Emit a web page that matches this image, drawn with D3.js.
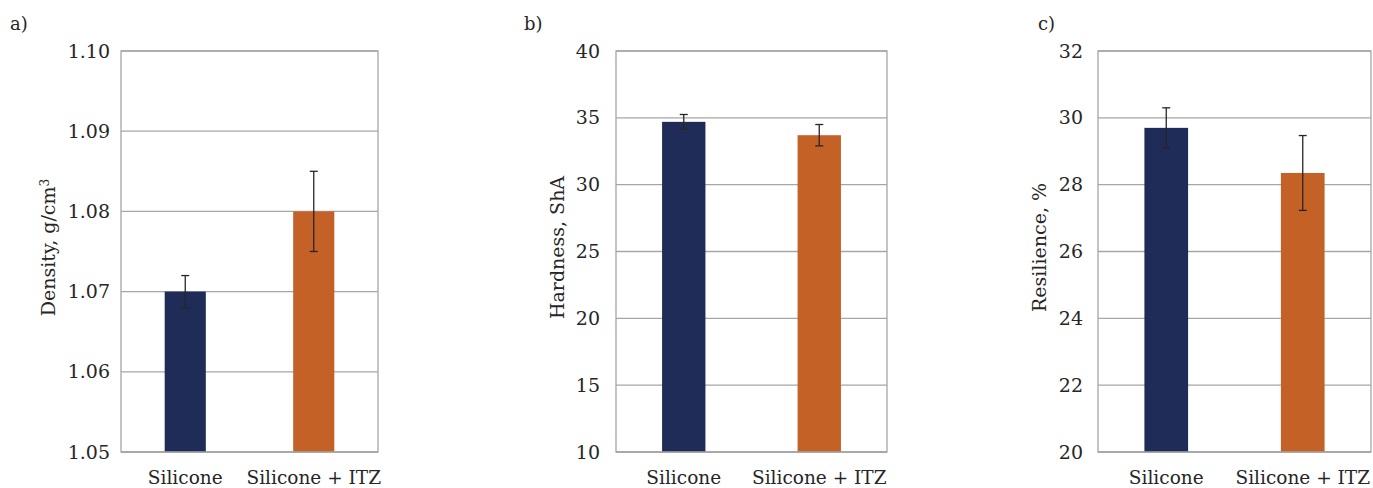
<!DOCTYPE html>
<html>
<head>
<meta charset="utf-8">
<script src="https://cdn.jsdelivr.net/npm/d3@7"></script>
<style>
  html, body { margin: 0; padding: 0; background: #fff; }
  svg { display: block; }
</style>
</head>
<body>
<svg id="chart" width="1373" height="488"></svg>
<script>
// ---- Data ----
const categories = ["Silicone", "Silicone + ITZ"];

const densityValues = [1.070, 1.080];
const densityErrors = [0.002, 0.005];
const densityTicks = [1.05, 1.06, 1.07, 1.08, 1.09, 1.10];

const hardnessValues = [34.7, 33.7];
const hardnessErrors = [0.55, 0.8];
const hardnessTicks = [10, 15, 20, 25, 30, 35, 40];

const resilienceValues = [29.7, 28.35];
const resilienceErrors = [0.6, 1.12];
const resilienceTicks = [20, 22, 24, 26, 28, 30, 32];

const barColors = ["#1E2C57", "#C46127"];

const FONT = "'DejaVu Serif', 'Liberation Serif', 'Times New Roman', serif";

// ---- Panels config (layout only) ----
const panels = [
  { label: "a)", title: "Density, g/cm", sup: "3", values: densityValues, errors: densityErrors, ticks: densityTicks, fmt: d3.format(".2f"),
    x0: 121, x1: 378, labelX: 10, titleX: 48, tickEndX: 110 },
  { label: "b)", title: "Hardness, ShA", sup: null, values: hardnessValues, errors: hardnessErrors, ticks: hardnessTicks, fmt: d3.format("d"),
    x0: 616, x1: 887, labelX: 524, titleX: 557, tickEndX: 600 },
  { label: "c)", title: "Resilience, %", sup: null, values: resilienceValues, errors: resilienceErrors, ticks: resilienceTicks, fmt: d3.format("d"),
    x0: 1098, x1: 1371, labelX: 1038, titleX: 1039, tickEndX: 1083 }
];

const yTop = 51, yBottom = 452;
const svg = d3.select("#chart").attr("font-family", FONT);

panels.forEach(p => {
  const g = svg.append("g");
  const x = d3.scaleBand().domain(categories).range([p.x0, p.x1]).paddingInner(0.68).paddingOuter(0.34);
  const y = d3.scaleLinear().domain([p.ticks[0], p.ticks[p.ticks.length - 1]]).range([yBottom, yTop]);

  g.selectAll("line.grid").data(p.ticks).join("line")
    .attr("x1", p.x0).attr("x2", p.x1)
    .attr("y1", d => y(d)).attr("y2", d => y(d))
    .attr("stroke", "#A6A6A6").attr("stroke-width", 1.3);

  g.append("rect").attr("x", p.x0).attr("y", yTop).attr("width", p.x1 - p.x0).attr("height", yBottom - yTop)
    .attr("fill", "none").attr("stroke", "#A6A6A6").attr("stroke-width", 1.3);

  g.selectAll("rect.bar").data(categories).join("rect")
    .attr("x", d => x(d)).attr("width", x.bandwidth())
    .attr("y", (d, i) => y(p.values[i]))
    .attr("height", (d, i) => y(p.ticks[0]) - y(p.values[i]))
    .attr("fill", (d, i) => barColors[i]);

  g.append("line").attr("x1", p.x0).attr("x2", p.x1).attr("y1", yBottom).attr("y2", yBottom)
    .attr("stroke", "#A6A6A6").attr("stroke-width", 1.3);

  const cap = 4;
  categories.forEach((c, i) => {
    const cx = x(c) + x.bandwidth() / 2;
    const hi = y(p.values[i] + p.errors[i]);
    const lo = y(p.values[i] - p.errors[i]);
    g.append("line").attr("x1", cx).attr("x2", cx).attr("y1", hi).attr("y2", lo).attr("stroke", "#262626").attr("stroke-width", 1.3);
    g.append("line").attr("x1", cx - cap).attr("x2", cx + cap).attr("y1", hi).attr("y2", hi).attr("stroke", "#262626").attr("stroke-width", 1.3);
    g.append("line").attr("x1", cx - cap).attr("x2", cx + cap).attr("y1", lo).attr("y2", lo).attr("stroke", "#262626").attr("stroke-width", 1.3);
  });

  g.selectAll("text.tick").data(p.ticks).join("text")
    .attr("x", p.tickEndX).attr("y", d => y(d))
    .attr("dy", "0.35em").attr("text-anchor", "end")
    .attr("font-family", FONT).attr("font-size", 19).attr("fill", "#262626")
    .text(d => p.fmt(d));

  g.selectAll("text.cat").data(categories).join("text")
    .attr("x", d => x(d) + x.bandwidth() / 2).attr("y", 484)
    .attr("text-anchor", "middle")
    .attr("font-family", FONT).attr("font-size", 18.5).attr("fill", "#262626")
    .text(d => d);

  const t = g.append("text")
    .attr("transform", `translate(${p.titleX},${(yTop + yBottom) / 2 - 4}) rotate(-90)`)
    .attr("text-anchor", "middle").attr("dy", "0.35em")
    .attr("font-family", FONT).attr("font-size", 19).attr("fill", "#262626");
  t.append("tspan").text(p.title);
  if (p.sup) t.append("tspan").attr("dy", "-0.5em").attr("font-size", 12).text(p.sup);

  g.append("text").attr("x", p.labelX).attr("y", 30)
    .attr("font-family", FONT).attr("font-size", 18).attr("fill", "#262626").text(p.label);
});
</script>
</body>
</html>
